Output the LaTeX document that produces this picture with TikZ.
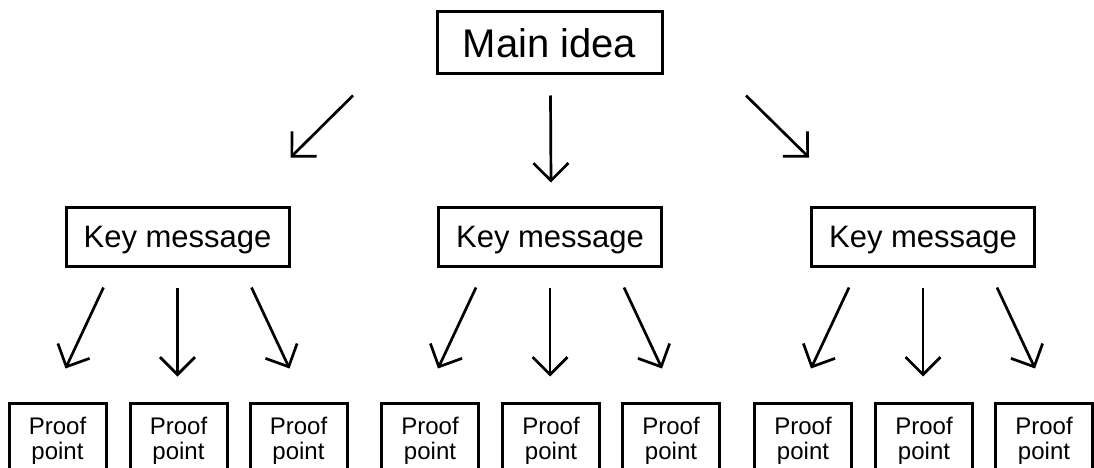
\documentclass[tikz,border=0pt]{standalone}
\usepackage{fontspec}
\setmainfont{Liberation Sans}
\usetikzlibrary{arrows.meta,calc}

\tikzset{
  box/.style={draw, line width=3pt, inner sep=0pt, align=center},
  mainbox/.style={box, minimum width=225pt, minimum height=62pt,
    font=\fontsize{40}{48}\selectfont},
  keybox/.style={box, minimum width=223pt, minimum height=59pt,
    text depth=0pt, font=\fontsize{31}{37}\selectfont},
  proofbox/.style={box, minimum width=97pt, minimum height=73.5pt,
    font=\fontsize{24}{25}\selectfont},
  arr/.style={line width=2.7pt,
    -{Straight Barb[length=17.5pt, width=35pt, line cap=butt, line join=miter]}}
}

\begin{document}
\begin{tikzpicture}[x=1pt, y=-1pt]
  \useasboundingbox (0,0) rectangle (1094,468);
  \clip (0,0) rectangle (1094,468);

  % top level
  \node[mainbox] (main) at (549.5,43) {Main idea};

  % key messages
  \node[keybox] (k1) at (177.5,236.5) {Key message};
  \node[keybox] (k2) at (550,236.5) {Key message};
  \node[keybox] (k3) at (923,236.5) {Key message};

  % proof points under each key message
  \foreach \k in {1,2,3} {
    \node[proofbox] (p\k a) at ($(k\k.center)+(-120,204)$) {Proof\\point};
    \node[proofbox] (p\k b) at ($(k\k.center)+(1,204)$) {Proof\\point};
    \node[proofbox] (p\k c) at ($(k\k.center)+(121,204)$) {Proof\\point};
  }

  % arrows from the main idea to the key messages
  \draw[arr] ($(main.south)+(-196.5,20)$) -- ($(k1.north east)+(0,-48)$);
  \draw[arr] ($(main.south)+(1,20)$) -- ($(k2.north)+(1,-23)$);
  \draw[arr] ($(main.south)+(196.5,20)$) -- ($(k3.north west)+(-1,-48)$);

  % arrows from each key message to its proof points
  \foreach \k in {1,2,3} {
    \draw[arr] ($(k\k.south)+(-74,20)$) -- ($(k\k.south)+(-112,101)$);
    \draw[arr] ($(k\k.south)+(0,20)$) -- ($(k\k.south)+(0,109)$);
    \draw[arr] ($(k\k.south)+(74,20)$) -- ($(k\k.south)+(112,101)$);
  }
\end{tikzpicture}
\end{document}
